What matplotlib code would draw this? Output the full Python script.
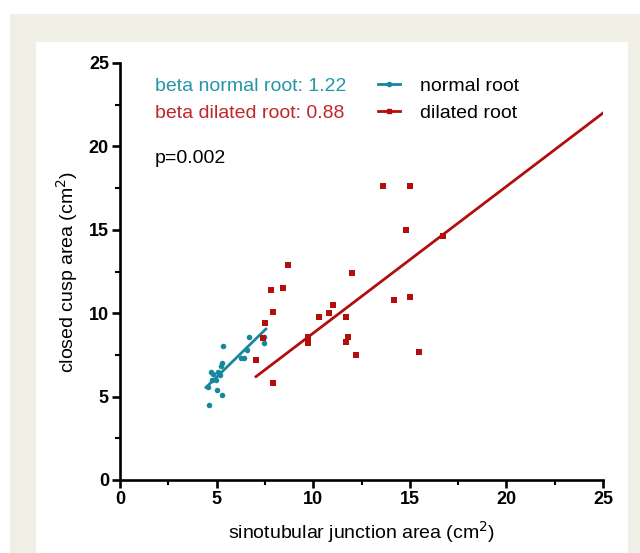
import matplotlib.pyplot as plt
from matplotlib.patches import Rectangle
from matplotlib.lines import Line2D

plt.rcParams['font.family'] = ['Liberation Sans', 'DejaVu Sans']

# normal root: sinotubular junction area vs closed cusp area (cm2)
normal_x = [5.31, 6.69, 7.45, 6.56, 6.42, 6.26, 5.26, 5.23, 4.71, 4.83, 5.09, 5.18,
            4.95, 4.74, 4.57, 5.0, 5.3, 4.6, 7.45]
normal_y = [8.03, 8.6, 8.2, 7.79, 7.3, 7.3, 7.0, 6.83, 6.5, 6.35, 6.5, 6.3,
            6.0, 6.0, 5.6, 5.4, 5.1, 4.5, 8.6]

# dilated root
dilated_x = [8.71, 7.8, 8.42, 7.9, 7.52, 7.4, 7.02, 7.9, 12.02, 10.31, 10.81, 11.0,
             11.7, 9.71, 9.71, 11.82, 11.7, 12.22, 13.63, 15.0, 14.8, 16.7, 14.2,
             15.0, 15.5]
dilated_y = [12.9, 11.4, 11.5, 10.1, 9.4, 8.5, 7.2, 5.8, 12.4, 9.8, 10.0, 10.5,
             9.8, 8.6, 8.2, 8.6, 8.3, 7.5, 17.6, 17.6, 15.0, 14.6, 10.8,
             11.0, 7.7]

# regression lines
normal_fit_x = [4.45, 7.55]
normal_fit_y = [5.55, 9.05]
dilated_fit_x = [7.04, 25.0]
dilated_fit_y = [6.2, 22.0]

teal = '#17889c'
red = '#b20e0e'

fig = plt.figure(figsize=(6.4, 5.53), dpi=100)
W, H = 640, 553
fig.patches.append(Rectangle((10 / W, 0), 630 / W, 539 / H, transform=fig.transFigure,
                             facecolor='#efefe5', edgecolor='none', zorder=-2))
fig.patches.append(Rectangle((36 / W, 0), 592 / W, 511 / H, transform=fig.transFigure,
                             facecolor='white', edgecolor='none', zorder=-1))

ax = fig.add_axes([120 / W, (H - 480) / H, 483 / W, 417 / H])
ax.patch.set_alpha(0)

ax.plot(normal_x, normal_y, 'o', color=teal, markersize=4, markeredgewidth=0, clip_on=False)
ax.plot(normal_fit_x, normal_fit_y, '-', color=teal, lw=2)
ax.plot(dilated_x, dilated_y, 's', color=red, markersize=4.5, markeredgewidth=0, clip_on=False)
ax.plot(dilated_fit_x, dilated_fit_y, '-', color=red, lw=2)

ax.set_xlim(0, 25)
ax.set_ylim(0, 25)
ax.set_xticks([0, 5, 10, 15, 20, 25])
ax.set_yticks([0, 5, 10, 15, 20, 25])
ax.set_xticks([2.5, 7.5, 12.5, 17.5, 22.5], minor=True)
ax.set_yticks([2.5, 7.5, 12.5, 17.5, 22.5], minor=True)
for s in ['top', 'right']:
    ax.spines[s].set_visible(False)
for s in ['left', 'bottom']:
    ax.spines[s].set_linewidth(1.9)
ax.tick_params(which='major', length=6, width=1.9, labelsize=13, pad=2)
ax.tick_params(which='minor', length=3.5, width=1.5)
for lab in ax.get_xticklabels() + ax.get_yticklabels():
    lab.set_fontweight('bold')

ax.set_xlabel('sinotubular junction area (cm$^2$)', fontsize=14, labelpad=8)
ax.set_ylabel('closed cusp area (cm$^2$)', fontsize=14, labelpad=6)

ax.text(1.8, 23.6, 'beta normal root: 1.22', color='#2596a8', fontsize=14, va='center')
ax.text(1.8, 22.0, 'beta dilated root: 0.88', color='#c0272a', fontsize=14, va='center')
ax.text(1.8, 19.3, 'p=0.002', color='black', fontsize=14, va='center')

handles = [Line2D([], [], color=teal, lw=2, marker='o', markersize=3, markevery=[1]),
           Line2D([], [], color=red, lw=2, marker='s', markersize=3, markevery=[1])]
ax.legend(handles, ['normal root', 'dilated root'], loc='upper left',
          bbox_to_anchor=(378 / W, 1 - 77 / H), bbox_transform=fig.transFigure,
          frameon=False, fontsize=14, borderpad=0, borderaxespad=0,
          handlelength=1.15, handletextpad=1.0, labelspacing=0.5)

fig.savefig('out.png', dpi=100)
